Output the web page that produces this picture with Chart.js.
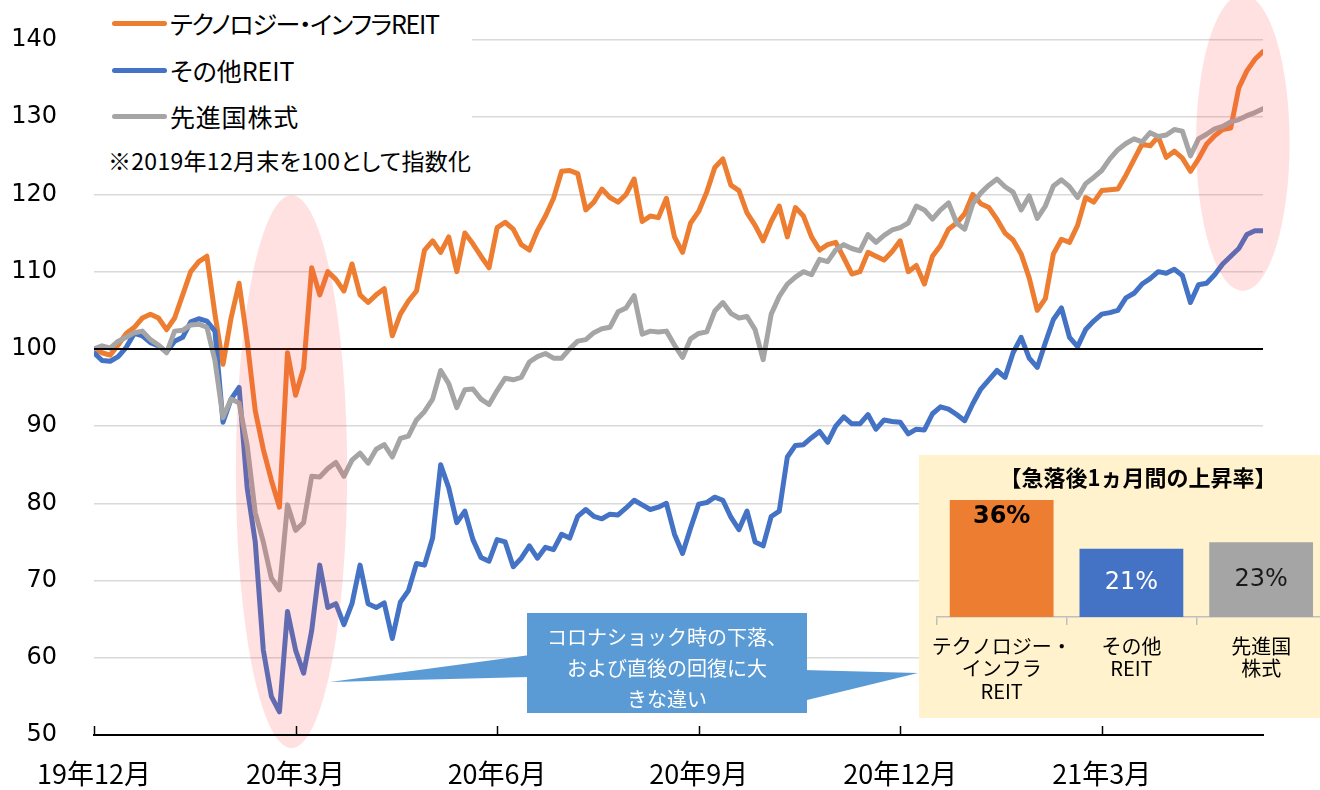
<!DOCTYPE html>
<html lang="ja">
<head>
<meta charset="utf-8">
<script src="https://cdn.jsdelivr.net/npm/chart.js@4.4.0/dist/chart.umd.min.js"></script>
<style>
  body { margin: 0; background: #fff; }
  #wrap { position: relative; width: 1320px; height: 790px; overflow: hidden; font-family: "Noto Sans CJK JP", sans-serif; }
  #main { position: absolute; left: 0; top: 0; }
  #legendBox { position: absolute; left: 94px; top: 0; width: 378px; height: 182px; background: #fff; }
  .lg-line { position: absolute; left: 18px; width: 55px; height: 5px; border-radius: 3px; }
  .lg-text { position: absolute; left: 76px; font-size: 25px; line-height: 30px; white-space: nowrap; color: #000; font-feature-settings: "palt"; }
  #note { position: absolute; left: 108px; top: 145px; font-size: 23px; line-height: 30px; letter-spacing: 0.3px; white-space: nowrap; font-feature-settings: "palt"; }
  #deco { position: absolute; left: 0; top: 0; }
  #callout { position: absolute; left: 527px; top: 613px; width: 280px; height: 100px; color: #fff; font-size: 20px; line-height: 31px; text-align: center; padding-top: 8px; box-sizing: border-box; }
  #inset { position: absolute; left: 919px; top: 455px; width: 401px; height: 263px; background: #FFF2CC; overflow: hidden; }
  #insetTitle { position: absolute; left: 0; top: 6px; width: 438px; text-align: center; font-size: 22px; font-weight: bold; line-height: 30px; white-space: nowrap; }
  #insetChart { position: absolute; left: 0; top: 0; }
</style>
</head>
<body>
<div id="wrap">
  <canvas id="main" width="1320" height="790"></canvas>
  <div id="legendBox"></div>
  <div id="note">※2019年12月末を100として指数化</div>
  <svg id="deco" width="1320" height="790">
    <polygon points="330,682 530,655 530,677" fill="#5B9BD5"/>
    <polygon points="803,670 918,673 803,701" fill="#5B9BD5"/>
    <rect x="527" y="613" width="280" height="100" fill="#5B9BD5"/>
  </svg>
  <div id="callout">コロナショック時の下落、<br>および直後の回復に大<br>きな違い</div>
  <div id="inset">
    <canvas id="insetChart" width="410" height="263"></canvas>
    <div id="insetTitle">【急落後1ヵ月間の上昇率】</div>
  </div>
</div>
<script>
// index: 2019年12月末 = 100, roughly every 2-3 business days
const seriesNames = ['テクノロジー・インフラREIT', 'その他REIT', '先進国株式'];
const seriesColors = ['#ED7D31', '#4472C4', '#A5A5A5'];

const tickAt = [0, 25, 50, 75, 100, 125];
const tickLabels = ['19年12月', '20年3月', '20年6月', '20年9月', '20年12月', '21年3月'];

const techReit = [
  100, 99.5, 99.2, 100.5, 102, 102.8, 104, 104.5, 104, 102.5,
  104, 107, 110, 111.3, 112, 104.5, 98, 104, 108.5, 101,
  92, 87, 83, 79.5, 99.5, 94, 97.5, 110.5, 107, 110,
  109, 107.5, 111, 107, 106, 107, 107.8, 101.7, 104.5, 106.2,
  107.5, 112.8, 114, 112.5, 114.5, 110, 115, 113.6, 112, 110.5,
  115.7, 116.4, 115.5, 113.5, 112.8, 115.3, 117.2, 119.5, 123, 123.1,
  122.7, 118, 119, 120.7, 119.6, 119, 120, 122, 116.5, 117.2,
  117, 119.5, 114.5, 112.5, 116.3, 117.8, 120.3, 123.5, 124.6, 121.2,
  120.5, 117.6, 116, 114, 116.5, 118.5, 114.5, 118.3, 117.2, 114.5,
  112.8, 113.5, 113.8, 111.8, 109.7, 110, 112.5, 112, 111.5, 112.6,
  114, 110, 110.8, 108.4, 112, 113.4, 115.5, 116.3, 117.5, 120,
  118.8, 118.3, 116.8, 115, 114.1, 112.3, 109.2, 105, 106.5, 112.3,
  114.2, 113.8, 116, 119.6, 119, 120.5, 120.6, 120.7, 122.5, 124.5,
  126.5, 126.3, 127.5, 124.8, 125.6, 124.7, 123, 124.6, 126.5, 127.6,
  128.4, 128.6, 133.8, 136, 137.5, 138.5
];

const otherReit = [
  99.5, 98.5, 98.4, 99, 100.2, 102, 101.7, 100.8, 100.4, 99.6,
  101, 101.5, 103.5, 103.9, 103.6, 102.3, 90.5, 93.5, 95, 82,
  75, 61, 55, 53, 66, 61, 58, 63.5, 72, 66.5,
  67, 64.3, 67, 72, 67, 66.5, 67.1, 62.5, 67.2, 68.7,
  72.2, 72, 75.5, 85, 82, 77.5, 79, 75.3, 73, 72.5,
  75.3, 75, 71.8, 72.9, 74.5, 72.9, 74.3, 74, 76, 75.5,
  78.3, 79.2, 78.3, 78, 78.6, 78.5, 79.4, 80.4, 79.8, 79.2,
  79.5, 80, 76, 73.5, 76.8, 79.9, 80.1, 80.8, 80.4, 78.2,
  76.6, 79, 75, 74.5, 78.3, 79, 86, 87.5, 87.6, 88.5,
  89.3, 87.9, 90, 91.2, 90.3, 90.3, 91.5, 89.6, 90.8, 90.6,
  90.5, 89, 89.6, 89.5, 91.6, 92.5, 92.2, 91.5, 90.7, 92.9,
  94.8, 96, 97.2, 96.3, 99.5, 101.5, 98.8, 97.6, 100.8, 103.8,
  105.3, 101.5, 100.3, 102.5, 103.6, 104.5, 104.7, 105, 106.6, 107.2,
  108.4, 109.1, 110, 109.8, 110.3, 109.5, 106, 108.3, 108.5, 109.6,
  111, 112, 113, 114.8, 115.3, 115.3
];

const worldEq = [
  100, 100.4, 100.1, 101, 101.5, 102.1, 102.3, 101.2, 100.5, 99.5,
  102.3, 102.4, 103.1, 103.2, 102.8, 98.5, 91.1, 93.5, 93, 87.5,
  78.8, 75, 70.3, 68.8, 79.8, 76.5, 77.5, 83.5, 83.4, 84.5,
  85.3, 83.5, 85.6, 86.5, 85.2, 87, 87.6, 86, 88.4, 88.7,
  90.8, 91.9, 93.5, 97.2, 95.5, 92.4, 94.7, 94.8, 93.5, 92.8,
  94.6, 96.2, 96, 96.3, 98.3, 99, 99.4, 98.8, 98.8, 100,
  101, 101.2, 102.1, 102.6, 102.8, 104.8, 105.3, 106.9, 101.9, 102.3,
  102.2, 102.3, 100.5, 98.9, 101.3, 102, 102.2, 104.9, 106, 104.6,
  104, 104.2, 102.5, 98.6, 104.5, 106.8, 108.4, 109.3, 110, 109.6,
  111.6, 111.3, 112.8, 113.5, 113, 112.7, 114.8, 113.8, 114.7, 115.4,
  115.7, 116.3, 118.5, 118, 116.8, 118, 118.9, 116.3, 115.5, 118.8,
  120.2, 121.2, 122, 121, 120.3, 118, 119.8, 116.9, 118.5, 121.1,
  121.9, 121, 119.6, 121.4, 122.2, 123.1, 124.6, 125.8, 126.6, 127.2,
  126.8, 128, 127.5, 127.7, 128.4, 128.2, 125, 127.2, 127.8, 128.5,
  128.8, 129.4, 129.7, 130.2, 130.6, 131.1
];

// inset: rise over one month after the crash
const riseLabels = [['テクノロジー・', 'インフラ', 'REIT'], ['その他', 'REIT'], ['先進国', '株式']];
const riseValues = [36, 21, 23];
const riseTextColors = ['#000', '#fff', '#1a1a1a'];

// highlighted regions (data units)
const highlights = [
  { x: 24.5, y: 84.1, rx: 6.9, ry: 35.8 },
  { x: 142.5, y: 126.7, rx: 5.8, ry: 19.2 }
];

// legend
const legendBox = document.getElementById('legendBox');
const legendY = [23, 70, 116];
const legendSpacing = ['-1.3px', '0px', '0.8px'];
seriesNames.forEach((name, i) => {
  const line = document.createElement('div');
  line.className = 'lg-line';
  line.style.top = (legendY[i] - 2.5) + 'px';
  line.style.background = seriesColors[i];
  legendBox.appendChild(line);
  const txt = document.createElement('div');
  txt.className = 'lg-text';
  txt.style.top = (legendY[i] - 15) + 'px';
  txt.style.letterSpacing = legendSpacing[i];
  txt.textContent = name;
  legendBox.appendChild(txt);
});

const mainOverlay = {
  id: 'mainOverlay',
  afterDatasetsDraw(chart) {
    const { ctx, chartArea, scales: { x, y } } = chart;
    ctx.save();
    // 100 baseline on top of the lines
    const y100 = y.getPixelForValue(100);
    ctx.strokeStyle = '#000';
    ctx.lineWidth = 2;
    ctx.beginPath();
    ctx.moveTo(chartArea.left, y100);
    ctx.lineTo(chartArea.right, y100);
    ctx.stroke();
    // pink highlight ellipses
    ctx.fillStyle = 'rgba(255, 80, 80, 0.17)';
    highlights.forEach(h => {
      const cx = x.getPixelForValue(h.x);
      const cy = y.getPixelForValue(h.y);
      const rx = x.getPixelForValue(h.x + h.rx) - cx;
      const ry = cy - y.getPixelForValue(h.y + h.ry);
      ctx.beginPath();
      ctx.ellipse(cx, cy, rx, ry, 0, 0, Math.PI * 2);
      ctx.fill();
    });
    ctx.restore();
  },
  afterDraw(chart) {
    const { ctx, chartArea, scales: { x } } = chart;
    ctx.save();
    ctx.strokeStyle = '#000';
    ctx.lineWidth = 2;
    ctx.beginPath();
    ctx.moveTo(chartArea.left, chartArea.bottom);
    ctx.lineTo(chartArea.right, chartArea.bottom);
    ctx.stroke();
    ctx.lineWidth = 1.5;
    tickAt.forEach(v => {
      const px = Math.round(x.getPixelForValue(v)) + 0.5;
      ctx.beginPath();
      ctx.moveTo(px, chartArea.bottom);
      ctx.lineTo(px, chartArea.bottom - 9);
      ctx.stroke();
    });
    ctx.restore();
  }
};

const toPoints = arr => arr.map((v, i) => ({ x: i, y: v }));

new Chart(document.getElementById('main').getContext('2d'), {
  type: 'line',
  data: {
    datasets: [
      { label: seriesNames[0], data: toPoints(techReit), borderColor: seriesColors[0], order: 3 },
      { label: seriesNames[1], data: toPoints(otherReit), borderColor: seriesColors[1], order: 2 },
      { label: seriesNames[2], data: toPoints(worldEq), borderColor: seriesColors[2], order: 1 }
    ]
  },
  options: {
    responsive: false,
    animation: false,
    layout: { padding: { top: 40, right: 57, left: 0, bottom: 0 } },
    elements: {
      point: { radius: 0 },
      line: { borderWidth: 5, tension: 0, borderJoinStyle: 'round', borderCapStyle: 'round', fill: false }
    },
    plugins: { legend: { display: false }, tooltip: { enabled: false } },
    scales: {
      x: {
        type: 'linear',
        min: 0,
        max: techReit.length - 1,
        afterBuildTicks: s => { s.ticks = tickAt.map(v => ({ value: v })); },
        afterFit: s => { s.height = 55; },
        grid: { display: false },
        border: { display: true, color: '#000', width: 2 },
        ticks: {
          autoSkip: false,
          maxRotation: 0,
          padding: 15,
          color: '#000',
          font: { family: '"Noto Sans CJK JP"', size: 27 },
          callback: v => tickLabels[tickAt.indexOf(v)]
        }
      },
      y: {
        min: 50,
        max: 140,
        afterFit: s => { s.width = 94; },
        border: { display: false },
        grid: {
          drawTicks: true,
          tickLength: 37,
          tickColor: 'rgba(0,0,0,0)',
          lineWidth: 1.5,
          color: c => (c.tick.value === 50 ? '#000' : '#D9D9D9')
        },
        ticks: {
          stepSize: 10,
          padding: 0,
          color: '#000',
          font: { family: '"DejaVu Sans"', size: 24 }
        }
      }
    }
  },
  plugins: [mainOverlay]
});

const barLabels = {
  id: 'barLabels',
  afterDatasetsDraw(chart) {
    const ctx = chart.ctx;
    ctx.save();
    ctx.textAlign = 'center';
    ctx.textBaseline = 'middle';
    chart.getDatasetMeta(0).data.forEach((bar, i) => {
      ctx.font = (i === 0 ? 'bold ' : '') + '24px "DejaVu Sans"';
      ctx.fillStyle = riseTextColors[i];
      const ty = i === 0 ? bar.y + 17 : (bar.y + bar.base) / 2;
      ctx.fillText(riseValues[i] + '%', bar.x, ty);
    });
    ctx.restore();
  }
};

new Chart(document.getElementById('insetChart').getContext('2d'), {
  type: 'bar',
  data: {
    labels: riseLabels,
    datasets: [{
      data: riseValues,
      backgroundColor: seriesColors,
      barPercentage: 0.8,
      categoryPercentage: 1
    }]
  },
  options: {
    responsive: false,
    animation: false,
    layout: { padding: { left: 16, right: 3, top: 32, bottom: 0 } },
    plugins: { legend: { display: false }, tooltip: { enabled: false } },
    scales: {
      y: { display: false, min: 0, max: 40 },
      x: {
        afterFit: s => { s.height = 101; },
        grid: { drawOnChartArea: false, color: '#BFBFBF', lineWidth: 1.5, tickLength: 8 },
        border: { color: '#BFBFBF', width: 1.5 },
        ticks: {
          autoSkip: false,
          maxRotation: 0,
          padding: 10,
          color: '#000',
          font: { family: '"Noto Sans CJK JP"', size: 20, lineHeight: 1.12 }
        }
      }
    }
  },
  plugins: [barLabels]
});
</script>
</body>
</html>
